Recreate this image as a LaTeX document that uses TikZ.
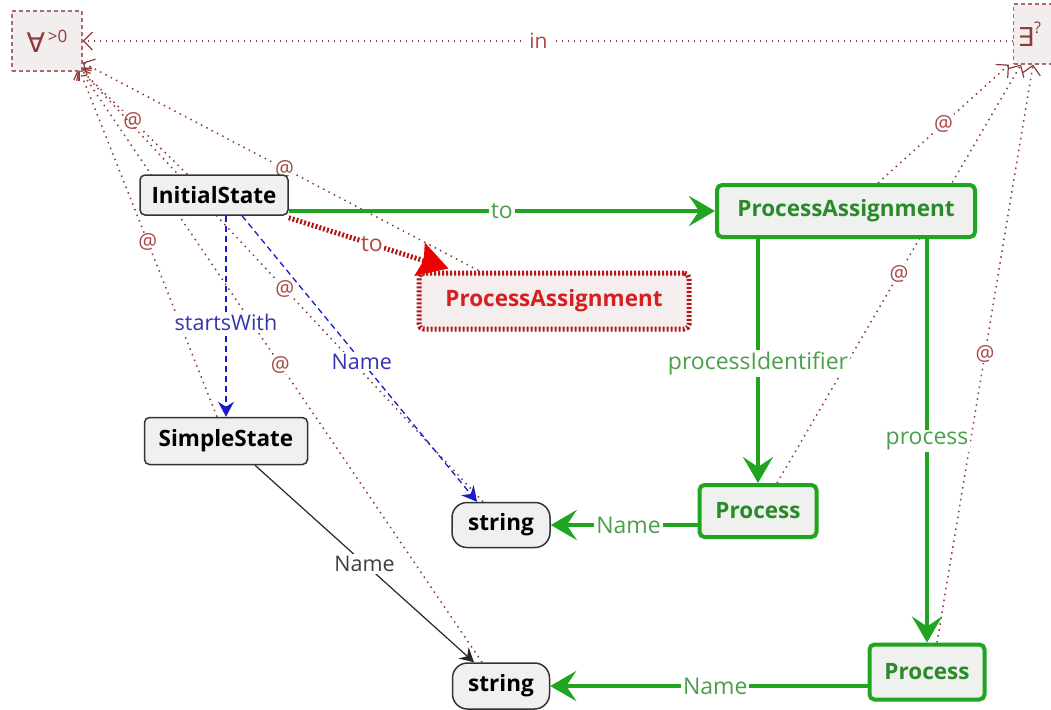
\documentclass[tikz,border=0pt]{standalone}
\usepackage{fontspec}
\setmainfont{Open Sans}
\newfontfamily\quantfont{DejaVu Sans}
\usetikzlibrary{arrows.meta,calc}

\definecolor{gline}{HTML}{1FA51F}
\definecolor{gtext}{HTML}{2A8A2A}
\definecolor{glabel}{HTML}{4C9E4C}
\definecolor{gfill}{HTML}{EEF1EE}
\definecolor{boxfill}{HTML}{F0F0F0}
\definecolor{rline}{HTML}{B01818}
\definecolor{rtext}{HTML}{D81E1E}
\definecolor{rhead}{HTML}{EE0000}
\definecolor{rlabel}{HTML}{B04848}
\definecolor{rfill}{HTML}{F4EEEE}
\definecolor{bline}{HTML}{1A1AC8}
\definecolor{blabel}{HTML}{3434B0}
\definecolor{quant}{HTML}{8E3A3A}
\definecolor{qfill}{HTML}{F3EEEE}
\definecolor{atcol}{HTML}{A84848}

\pgfdeclarelayer{edges}
\pgfsetlayers{edges,main}

\begin{document}
\begin{tikzpicture}[x=1pt,y=-1pt,
  font=\fontsize{22}{26}\selectfont,
  basebox/.style={inner sep=0pt, rounded corners=5pt, font=\fontsize{22.5}{26}\selectfont\bfseries},
  plainbox/.style={basebox, draw=black!80, line width=1.5pt, fill=boxfill},
  strbox/.style={plainbox, rounded corners=15pt},
  greenbox/.style={basebox, draw=gline, line width=4pt, fill=gfill, text=gtext},
  redbox/.style={basebox, draw=rline, line width=5pt, dash pattern=on 2pt off 2pt, fill=rfill, text=rtext},
  quantbox/.style={draw=quant!75, line width=1.2pt, dash pattern=on 4pt off 3pt, fill=qfill, text=quant, inner sep=3pt},
  gedge/.style={draw=gline, line width=4pt, -{Stealth[length=26pt,width=30pt,inset=10pt]}},
  glab/.style={fill=white, text=glabel, inner sep=2pt, font=\fontsize{23}{27}\selectfont},
  redge/.style={draw=rline, line width=5pt, dash pattern=on 2pt off 2pt, -{Stealth[length=30pt,width=34pt,inset=4pt,color=rhead]}},
  rlab/.style={fill=white, text=rlabel, inner sep=1pt, font=\fontsize{23}{27}\selectfont},
  bedge/.style={draw=bline, line width=1.3pt, dash pattern=on 6pt off 4pt, -{Stealth[length=15pt,width=16pt,inset=5pt]}},
  blab/.style={fill=white, text=blabel, inner sep=2pt, font=\fontsize{21.5}{25}\selectfont},
  kedge/.style={draw=black!85, line width=1.2pt, -{Stealth[length=14pt,width=15pt,inset=5pt]}},
  klab/.style={fill=white, text=black!75, inner sep=2pt, font=\fontsize{21.5}{25}\selectfont},
  atedge/.style={draw=quant, line width=1.5pt, dash pattern=on 1.5pt off 4.5pt, -{Straight Barb[length=9pt,width=18pt,line width=1.2pt]}},
  atlab/.style={fill=white, text=atcol, inner sep=1pt, font=\fontsize{21}{24}\selectfont},
  inlab/.style={fill=white, text=atcol, inner sep=3pt, font=\fontsize{21}{24}\selectfont}
]
\useasboundingbox (0,0) rectangle (1051,709);

% quantifier boxes
\node[quantbox, minimum width=70pt, minimum height=60pt] (ForAll) at (47,41)
  {{\quantfont\fontsize{27}{30}\selectfont ∀}\raisebox{10pt}{\fontsize{17}{17}\selectfont\,>0}};
\node[quantbox, minimum height=60pt, text width=62pt, align=left, inner sep=4pt, anchor=west] (Exists) at (1013,34)
  {{\quantfont\fontsize{26}{30}\selectfont ∃}\raisebox{13pt}{\fontsize{16}{16}\selectfont ?}};

% classes
\node[plainbox, minimum width=148pt, minimum height=40pt] (InitialState) at (214,195) {InitialState};
\node[greenbox, minimum width=258pt, minimum height=52pt] (gPA) at (846,211) {ProcessAssignment};
\node[redbox, minimum width=270pt, minimum height=56pt] (redPA) at (554,301) {ProcessAssignment};
\node[plainbox, minimum width=163pt, minimum height=47pt] (SimpleState) at (226,441) {SimpleState};
\node[strbox, minimum width=98pt, minimum height=45pt] (string1) at (501,525) {string};
\node[greenbox, minimum width=117pt, minimum height=52pt] (Process1) at (758,511) {Process};
\node[strbox, minimum width=97pt, minimum height=46pt] (string2) at (501,686) {string};
\node[greenbox, minimum width=115pt, minimum height=55pt] (Process2) at (927,672) {Process};

\coordinate (faT) at ($(ForAll.south east)+(-4,-4)$);

\begin{pgfonlayer}{edges}
  % scope links to the universal quantifier
  \draw[atedge] ($(InitialState.north west)+(48,0)$) -- node[atlab]{@} (faT);
  \draw[atedge] ($(SimpleState.north)+(-9,0)$) -- node[atlab]{@} (faT);
  \draw[atedge] ($(redPA.north west)+(62,0)$) -- node[atlab,pos=0.49]{@} ($(ForAll.south east)+(0,-9)$);
  \draw[atedge] ($(string1.north)+(-18,0)$) -- node[atlab,pos=0.49]{@} (faT);
  \draw[atedge] ($(string2.north)+(-19,0)$) -- node[atlab,pos=0.5]{@} (faT);
  % scope links to the existential quantifier
  \draw[atedge] ($(gPA.north)+(32,0)$) -- node[atlab]{@} ($(Exists.south west)+(-4,0)$);
  \draw[atedge] ($(Process1.north)+(19,0)$) -- node[atlab]{@} ($(Exists.south west)+(8,0)$);
  \draw[atedge] ($(Process2.north)+(10,0)$) -- node[atlab]{@} ($(Exists.south west)+(20,0)$);
  % nesting of the quantifiers
  \draw[atedge] (Exists.west |- ForAll.east) -- node[inlab,pos=0.51]{in} (ForAll.east);
\end{pgfonlayer}

% green pattern edges
\draw[gedge] (InitialState.east |- gPA.west) -- node[glab]{to} (gPA.west);
\draw[gedge] (gPA.south -| Process1.north) -- node[glab,pos=0.51]{processIdentifier} (Process1.north);
\draw[gedge] (gPA.south -| Process2.north) -- node[glab,pos=0.5]{process} (Process2.north);
\draw[gedge] (Process1.west |- string1.east) -- node[glab,pos=0.47]{Name} (string1.east);
\draw[gedge] (Process2.west |- string2.east) -- node[glab,pos=0.48]{Name} (string2.east);

% forbidden edge
\draw[redge] ($(InitialState.south east)+(0,2)$) -- node[rlab,pos=0.52]{to} ($(redPA.north west)+(32,-2)$);

% context edges
\draw[bedge] (InitialState.south -| SimpleState.north) -- node[blab,pos=0.53]{startsWith} (SimpleState.north);
\draw[bedge] ($(InitialState.south)+(28,0)$) -- node[blab,pos=0.51]{Name} ($(string1.north)+(-24,0)$);
\draw[kedge] ($(SimpleState.south)+(29,0)$) -- node[klab,pos=0.5]{Name} ($(string2.north)+(-27,0)$);
\end{tikzpicture}
\end{document}
